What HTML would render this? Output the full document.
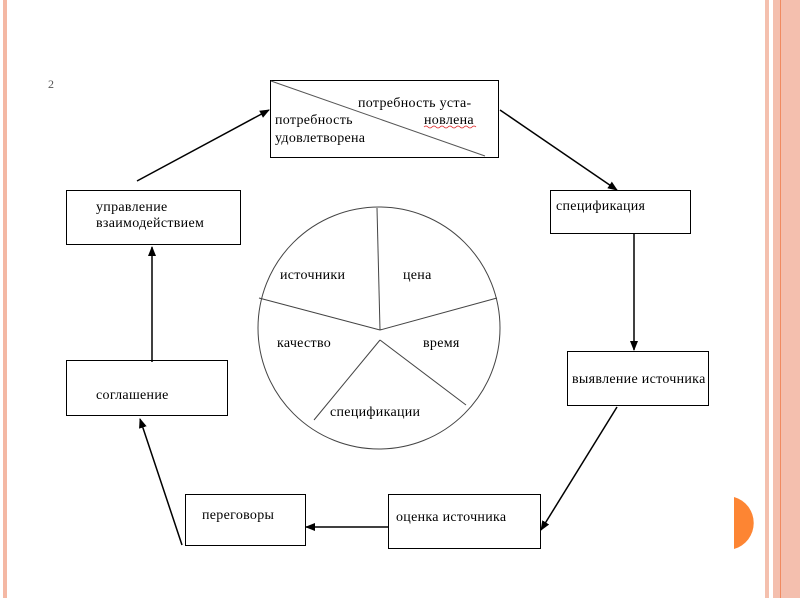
<html><body style="margin:0;width:800px;height:600px;background:#fff;position:relative;overflow:hidden;font-family:'Liberation Serif',serif;">
<div style="position:absolute;left:3px;top:0;width:4px;height:598px;background:#f4b8a4"></div>
<div style="position:absolute;left:765px;top:0;width:4px;height:598px;background:#f4c0ae"></div>
<div style="position:absolute;left:773px;top:0;width:27px;height:598px;background:#f4bfae"></div>
<div style="position:absolute;left:780px;top:0;width:1px;height:598px;background:#f08a60"></div>
<svg width="800" height="600" style="position:absolute;left:0;top:0" font-family="Liberation Serif, serif" font-size="14" letter-spacing="0.3">
<defs><marker id="a" markerWidth="10" markerHeight="10" refX="9" refY="5" orient="auto" markerUnits="userSpaceOnUse"><path d="M0,1 L10,5 L0,9 z" fill="#000"/></marker></defs>
<path d="M734,497 A27,27 0 0 1 734,549 z" fill="#fd8533"/>
<g fill="none" stroke="#000" stroke-width="1">
<rect x="270.5" y="80.5" width="228" height="77"/>
<line x1="271" y1="81" x2="485" y2="156" stroke="#555"/>
<rect x="66.5" y="190.5" width="174" height="54"/>
<rect x="550.5" y="190.5" width="140" height="43"/>
<rect x="567.5" y="351.5" width="141" height="54"/>
<rect x="66.5" y="360.5" width="161" height="55"/>
<rect x="185.5" y="494.5" width="120" height="51"/>
<rect x="388.5" y="494.5" width="152" height="54"/>
<circle cx="379" cy="328" r="121" stroke="#444"/>
<g stroke="#444">
<line x1="380" y1="330" x2="377" y2="208"/>
<line x1="380" y1="330" x2="259" y2="298"/>
<line x1="380" y1="330" x2="497" y2="298"/>
<line x1="380" y1="340" x2="314" y2="420"/>
<line x1="380" y1="340" x2="466" y2="405"/>
</g>
<g stroke-width="1.5" marker-end="url(#a)">
<line x1="137" y1="181" x2="269" y2="110"/>
<line x1="500" y1="110" x2="617" y2="190"/>
<line x1="634" y1="233" x2="634" y2="350"/>
<line x1="617" y1="407" x2="541" y2="530"/>
<line x1="388" y1="527" x2="306" y2="527"/>
<line x1="182" y1="545" x2="140" y2="419"/>
<line x1="152" y1="362" x2="152" y2="247"/>
</g>
</g>
<g fill="#000">
<text x="358" y="107">потребность уста-</text>
<text x="275" y="124">потребность</text>
<text x="424" y="124">новлена</text>
<path d="M424,127 q2,-2 4,0 t4,0 t4,0 t4,0 t4,0 t4,0 t4,0 t4,0 t4,0 t4,0 t4,0 t4,0 t4,0" stroke="#d22" fill="none" stroke-width="0.8"/>
<text x="275" y="142">удовлетворена</text>
<text x="96" y="211">управление</text>
<text x="96" y="227">взаимодействием</text>
<text x="556" y="210">спецификация</text>
<text x="572" y="383">выявление источника</text>
<text x="96" y="399">соглашение</text>
<text x="202" y="519">переговоры</text>
<text x="396" y="521">оценка источника</text>
<text x="280" y="279">источники</text>
<text x="403" y="279">цена</text>
<text x="277" y="347">качество</text>
<text x="423" y="347">время</text>
<text x="330" y="416">спецификации</text>
<text x="48" y="88" font-size="12" fill="#555">2</text>
</g>
</svg>
</body></html>
